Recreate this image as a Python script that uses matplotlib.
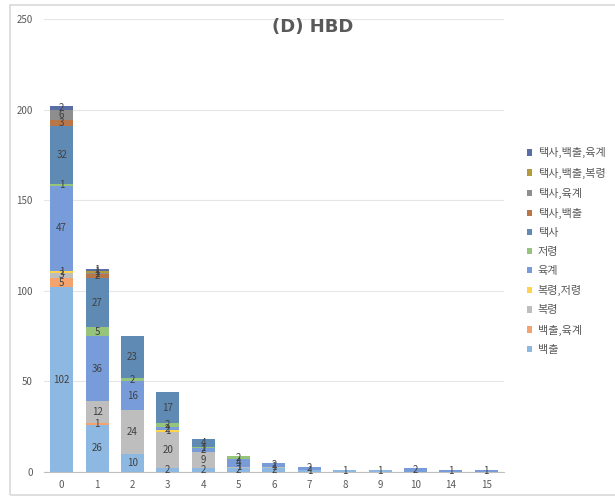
import matplotlib
matplotlib.use("Agg")
import matplotlib.pyplot as plt
import matplotlib.patches as patches
import numpy as np

plt.rcParams['font.family'] = ['Noto Sans CJK KR', 'DejaVu Sans']

categories = ['0', '1', '2', '3', '4', '5', '6', '7', '8', '9', '10', '14', '15']

# stacked series, bottom to top
series_names = ['백출', '백출,육계', '복령', '복령,저령', '육계', '저령', '택사',
                '택사,백출', '택사,육계', '택사,백출,복령', '택사,백출,육계']
baekchul      = [102, 26, 10, 2, 2, 2, 2, 1, 1, 1, 0, 0, 0]
baekchul_yuk  = [5, 1, 0, 0, 0, 0, 0, 0, 0, 0, 0, 0, 0]
bokryeong     = [3, 12, 24, 20, 9, 1, 1, 0, 0, 0, 0, 0, 0]
bok_jeo       = [1, 0, 0, 1, 0, 0, 0, 0, 0, 0, 0, 0, 0]
yukgye        = [47, 36, 16, 2, 2, 4, 2, 2, 0, 0, 2, 1, 1]
jeoryeong     = [1, 5, 2, 2, 1, 2, 0, 0, 0, 0, 0, 0, 0]
taeksa        = [32, 27, 23, 17, 4, 0, 0, 0, 0, 0, 0, 0, 0]
taek_baek     = [3, 2, 0, 0, 0, 0, 0, 0, 0, 0, 0, 0, 0]
taek_yuk      = [6, 1, 0, 0, 0, 0, 0, 0, 0, 0, 0, 0, 0]
taek_baek_bok = [0, 1, 0, 0, 0, 0, 0, 0, 0, 0, 0, 0, 0]
taek_baek_yuk = [2, 1, 0, 0, 0, 0, 0, 0, 0, 0, 0, 0, 0]

data = [baekchul, baekchul_yuk, bokryeong, bok_jeo, yukgye, jeoryeong, taeksa,
        taek_baek, taek_yuk, taek_baek_bok, taek_baek_yuk]
colors = ['#8DB8E2', '#F4A36E', '#BEBEBE', '#FFD34E', '#779CD9', '#95C47A',
          '#5F8AB3', '#B87649', '#8E8E8E', '#B39A3E', '#5A6EA6']

fig = plt.figure(figsize=(6.15, 4.97), dpi=100)
fig.patches.append(patches.Rectangle((10/615, 0.004), 1, 0.986, transform=fig.transFigure,
                                     fill=False, edgecolor='#D9D9D9', linewidth=1.2))
ax = fig.add_axes([0.0715, 0.0503, 0.748, 0.9115])

x = np.arange(len(categories))
bottom = np.zeros(len(categories))
for name, vals, c in zip(series_names, data, colors):
    vals = np.array(vals, dtype=float)
    bars = ax.bar(x, vals, 0.65, bottom=bottom, color=c, label=name, zorder=2)
    for xi, b, v in zip(x, bottom, vals):
        if v > 0:
            ax.text(xi, b + v / 2, '%d' % v, ha='center', va='center',
                    fontsize=7, color='#404040', zorder=3)
    bottom += vals

ax.set_xlim(-0.5, len(categories) - 0.5)
ax.set_ylim(0, 250)
ax.set_yticks(range(0, 251, 50))
ax.set_xticks(x)
ax.set_xticklabels(categories)
ax.grid(axis='y', color='#E6E6E6', linewidth=0.8, zorder=0)
ax.set_axisbelow(True)
for s in ['top', 'right', 'left']:
    ax.spines[s].set_visible(False)
ax.spines['bottom'].set_color('#BFBFBF')
ax.tick_params(axis='both', length=0, labelsize=7, labelcolor='#595959')
ax.tick_params(axis='y', pad=8)
ax.tick_params(axis='x', pad=6)

fig.text(0.509, 0.945, '(D) HBD', ha='center', va='center', fontsize=13,
         fontweight='bold', color='#595959', family=['DejaVu Sans'])

h, l = ax.get_legend_handles_labels()
ax.legend(h[::-1], l[::-1], loc='center left', bbox_to_anchor=(0.84, 0.0, 0.2, 0.99),
          bbox_transform=fig.transFigure, frameon=False, fontsize=8,
          handlelength=0.5, handleheight=0.5, handletextpad=0.5, labelspacing=0.82,
          labelcolor='#595959')

fig.savefig('out.png', dpi=100)
